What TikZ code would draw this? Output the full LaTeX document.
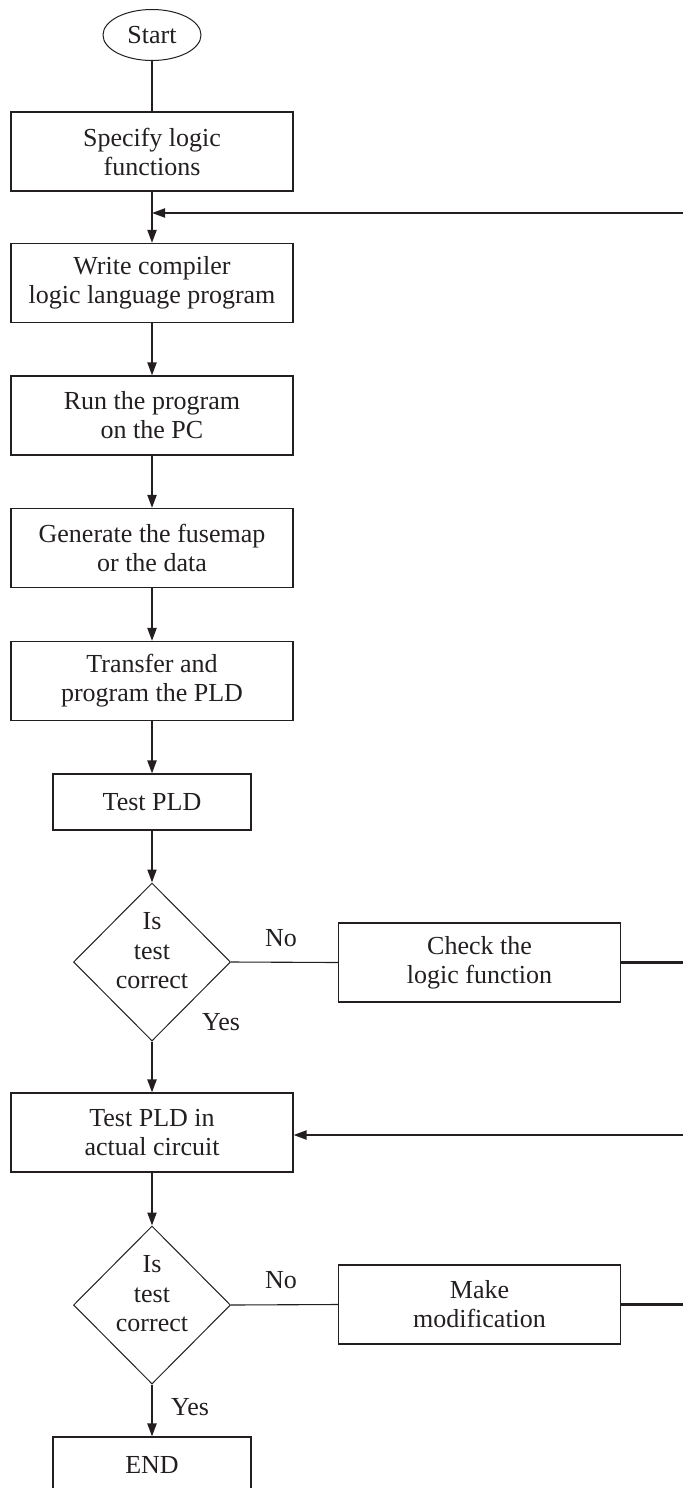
\documentclass[tikz,border=0pt]{standalone}
\usepackage{fontspec}
\setmainfont{Liberation Serif}
\usetikzlibrary{shapes.geometric,arrows.meta}
\definecolor{ink}{HTML}{231F20}
\tikzset{
  every node/.style={text=ink},
  proc/.style={draw=ink, line width=1.1pt, rectangle, minimum width=282pt, minimum height=79pt, inner sep=0pt, align=center, font=\fontsize{26}{29}\selectfont},
  smallproc/.style={proc, minimum width=198pt, minimum height=56pt},
  startnode/.style={draw=ink, line width=1pt, ellipse, minimum width=98pt, minimum height=51pt, inner sep=0pt, font=\fontsize{26}{29}\selectfont},
  decision/.style={draw=ink, line width=1pt, diamond, aspect=1, minimum width=157pt, minimum height=158pt, inner sep=0pt},
  dtext/.style={align=center, inner sep=0pt, font=\fontsize{26}{29.5}\selectfont},
  lbl/.style={inner sep=0pt, font=\fontsize{26}{29}\selectfont},
  flow/.style={draw=ink, line width=2pt, -{Triangle[length=13pt,width=9pt]}},
  thinline/.style={draw=ink, line width=1.1pt},
  exitline/.style={draw=ink, line width=2.2pt},
}
\begin{document}
\begin{tikzpicture}[x=1pt,y=1pt]
\useasboundingbox (0,0) rectangle (683,-1488);
\clip (0,0) rectangle (683,-1488);
\node[startnode] (start) at (152,-35) {Start};
\node[proc] (b1) at (152,-151.5) {Specify logic\\functions};
\node[proc] (b2) at (152,-283) {Write compiler\\logic language program};
\node[proc] (b3) at (152,-415.5) {Run the program\\on the PC};
\node[proc] (b4) at (152,-548) {Generate the fusemap\\or the data};
\node[proc] (b5) at (152,-681) {Transfer and\\program the PLD};
\node[smallproc] (b6) at (152,-802) {Test PLD};
\node[decision] (d1) at (152,-962) {};
\node[dtext] (d1t) at (152,-951) {Is\\test\\correct};
\node[proc] (chk) at (479.5,-962.5) {Check the\\logic function};
\node[proc] (b7) at (152,-1132.5) {Test PLD in\\actual circuit};
\node[decision] (d2) at (152,-1305) {};
\node[dtext] (d2t) at (152,-1294) {Is\\test\\correct};
\node[proc] (mod) at (479.5,-1304.5) {Make\\modification};
\node[smallproc] (endn) at (152,-1465) {END};
\node[lbl] (no1) at (281,-938) {No};
\node[lbl] (yes1) at (221,-1022) {Yes};
\node[lbl] (no2) at (281,-1280) {No};
\node[lbl] (yes2) at (190,-1407) {Yes};
\coordinate (r1) at (683,-213);
\coordinate (r2) at (683,-1135);
\draw[thinline] (start) -- (b1);
\draw[flow] (b1) -- (b2);
\draw[flow] (r1) -- (b1.south |- r1);
\draw[flow] (b2) -- (b3);
\draw[flow] (b3) -- (b4);
\draw[flow] (b4) -- (b5);
\draw[flow] (b5) -- (b6);
\draw[flow] (b6) -- (d1);
\draw[thinline] (d1.east) -- (chk.west);
\draw[exitline] (chk.east) -- (chk.east -| r1);
\draw[flow] (d1) -- (b7);
\draw[flow] (r2) -- (b7.east |- r2);
\draw[flow] (b7) -- (d2);
\draw[thinline] (d2.east) -- (mod.west);
\draw[exitline] (mod.east) -- (mod.east -| r2);
\draw[flow] (d2) -- (endn);
\end{tikzpicture}
\end{document}
